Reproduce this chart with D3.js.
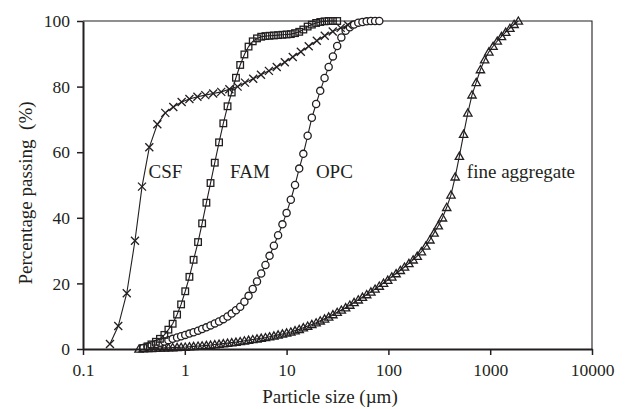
<!DOCTYPE html>
<html>
<head>
<meta charset="utf-8">
<script src="https://cdn.jsdelivr.net/npm/d3@7"></script>
<style>
  body { margin: 0; background: #fff; }
  text { font-family: "Liberation Serif", "Times New Roman", serif; fill: #231f20; }
</style>
</head>
<body>
<div id="chart"></div>
<script>
// particle size classes (um), shared by FAM, OPC and fine aggregate
var sizeClasses = [0.355, 0.39, 0.43, 0.47, 0.52, 0.57, 0.63, 0.69, 0.76, 0.84,
	0.92, 1.01, 1.11, 1.22, 1.35, 1.48, 1.63, 1.79, 1.97, 2.17,
	2.39, 2.63, 2.89, 3.18, 3.5, 3.85, 4.23, 4.65, 5.12, 5.63,
	6.2, 6.8, 7.5, 8.25, 9.1, 10, 11, 12.1, 13.3, 14.6,
	16.1, 17.7, 19.5, 21.4, 23.6, 25.9, 28.5, 31.4, 34.5, 38,
	41.8, 46, 50.6, 55.6, 61.2, 67.3, 74, 81.4, 89.6, 98.5,
	108, 119, 131, 144, 159, 175, 192, 211, 233, 256,
	281, 309, 340, 374, 412, 453, 498, 548, 603, 663,
	729, 802, 882, 970, 1067, 1174, 1291, 1420, 1562, 1718, 1890];

// CSF was measured on its own (coarser) size classes
var csfSizes = [0.184, 0.222, 0.269, 0.324, 0.38, 0.448, 0.537, 0.643, 0.771, 0.931,
	1.11, 1.33, 1.59, 1.9, 2.28, 2.74, 3.3, 3.9, 4.7, 5.6,
	6.7, 8.0, 9.6, 11.5, 13.8, 16.5, 19.8, 23.7, 28.4, 34, 40];
var csfPassing = [1.5, 7, 17, 33, 49.5, 61.5, 68.5, 72, 73.8, 75.3,
	76.2, 76.9, 77.4, 77.9, 78.4, 79.2, 80.0, 81.2, 82.4, 83.6,
	84.8, 86.0, 87.4, 89.0, 90.6, 92.3, 94.0, 95.5, 96.8, 97.9, 98.8];

// percentage passing, index-aligned with sizeClasses (null = no reading)
var famPassing = [null, 0.3, 0.8, 1.4, 2.2, 3.1, 4.3, 5.9, 7.7, 10.5,
	13.6, 17.6, 22.0, 27.2, 32.6, 38.3, 44.6, 50.6, 56.8, 63.0,
	68.8, 74.0, 78.2, 82.7, 86.6, 89.8, 92.2, 93.8, 94.7, 95.2,
	95.4, 95.5, 95.6, 95.7, 95.8, 95.9, 96.0, 96.3, 96.7, 97.4,
	98.3, 98.9, 99.4, 99.7, 99.9, 100, 100, 100];

var opcPassing = [null, 0.3, 0.7, 1.1, 1.5, 1.9, 2.3, 2.7, 3.1, 3.5,
	3.9, 4.3, 4.7, 5.1, 5.6, 6.1, 6.6, 7.2, 7.8, 8.4,
	9.1, 9.9, 10.8, 11.8, 12.9, 14.4, 16.2, 18.3, 20.6, 23.0,
	25.6, 28.4, 31.5, 34.7, 38.0, 41.5, 45.5, 50.0, 55.0, 59.5,
	65.0, 70.5, 74.7, 78.7, 82.6, 86.0, 89.2, 92.4, 95.0, 97.0,
	98.1, 98.9, 99.5, 99.7, 99.9, 100, 100, 100];

var finePassing = [0, 0.1, 0.15, 0.2, 0.25, 0.3, 0.35, 0.4, 0.45, 0.5,
	0.55, 0.6, 0.7, 0.8, 0.9, 1.0, 1.1, 1.2, 1.35, 1.5,
	1.65, 1.8, 1.95, 2.1, 2.3, 2.5, 2.7, 2.9, 3.1, 3.3,
	3.5, 3.75, 4.0, 4.3, 4.6, 4.9, 5.2, 5.6, 6.0, 6.5,
	7.0, 7.5, 8.0, 8.6, 9.2, 9.8, 10.5, 11.2, 11.9, 12.6,
	13.4, 14.2, 15.0, 15.8, 16.6, 17.4, 18.3, 19.2, 20.1, 21.0,
	22.0, 23.0, 24.0, 25.0, 26.1, 27.2, 28.3, 29.7, 31.4, 33.3,
	35.4, 37.6, 40.0, 43.2, 47.0, 52.5, 58.8, 65.5, 72.0, 77.5,
	81.3, 85.2, 88.2, 90.6, 92.3, 93.9, 95.3, 96.6, 97.8, 99.0, 100];

var xTicks = [0.1, 1, 10, 100, 1000, 10000];
var yTicks = [0, 20, 40, 60, 80, 100];

// curve labels, anchored at (size, % passing) of their left baseline point
var curveLabels = [
	{ text: "CSF", x: 0.44, y: 52 },
	{ text: "FAM", x: 2.78, y: 52 },
	{ text: "OPC", x: 19.4, y: 52 },
	{ text: "fine aggregate", x: 590, y: 52 }
];

var W = 628, H = 409;
var mLeft = 83, mRight = 592, mTop = 21, mBottom = 349;
var ink = "#231f20";

var svg = d3.select("#chart").append("svg")
	.attr("width", W)
	.attr("height", H);

var x = d3.scaleLog().domain([0.1, 10000]).range([mLeft, mRight]);
var y = d3.scaleLinear().domain([0, 100]).range([mBottom, mTop]);

function pairs(sizes, vals) {
	var out = [];
	for (var i = 0; i < vals.length; i++) {
		if (vals[i] != null) out.push({ s: sizes[i], p: vals[i] });
	}
	return out;
}

var csf  = pairs(csfSizes, csfPassing);
var fam  = pairs(sizeClasses, famPassing);
var opc  = pairs(sizeClasses, opcPassing);
var fine = pairs(sizeClasses, finePassing);

// frame (top / right thin)
svg.append("path")
	.attr("d", "M" + mLeft + "," + mTop + "H" + mRight + "V" + mBottom)
	.attr("fill", "none")
	.attr("stroke", ink)
	.attr("stroke-width", 1.1);

var line = d3.line()
	.x(function(d) { return x(d.s); })
	.y(function(d) { return y(d.p); });

var plot = svg.append("g");

[fine, opc, fam, csf].forEach(function(series) {
	plot.append("path")
		.datum(series)
		.attr("d", line)
		.attr("fill", "none")
		.attr("stroke", ink)
		.attr("stroke-width", 1.1);
});

var mk = 1.3;

// fine aggregate - open triangles
plot.append("g").selectAll("path")
	.data(fine)
	.enter().append("path")
	.attr("transform", function(d) { return "translate(" + x(d.s) + "," + (y(d.p) + 0.8) + ")"; })
	.attr("d", d3.symbol().type(d3.symbolTriangle).size(30))
	.attr("fill", "none")
	.attr("stroke", ink)
	.attr("stroke-width", mk);

// OPC - white circles
plot.append("g").selectAll("circle")
	.data(opc)
	.enter().append("circle")
	.attr("cx", function(d) { return x(d.s); })
	.attr("cy", function(d) { return y(d.p); })
	.attr("r", 3.6)
	.attr("fill", "#fff")
	.attr("stroke", ink)
	.attr("stroke-width", mk);

// FAM - open squares
plot.append("g").selectAll("rect")
	.data(fam)
	.enter().append("rect")
	.attr("x", function(d) { return x(d.s) - 3.3; })
	.attr("y", function(d) { return y(d.p) - 3.3; })
	.attr("width", 6.6)
	.attr("height", 6.6)
	.attr("fill", "none")
	.attr("stroke", ink)
	.attr("stroke-width", mk);

// CSF - crosses
plot.append("g").selectAll("path")
	.data(csf)
	.enter().append("path")
	.attr("transform", function(d) { return "translate(" + x(d.s) + "," + y(d.p) + ")"; })
	.attr("d", "M-4,-4L4,4M-4,4L4,-4")
	.attr("stroke", ink)
	.attr("stroke-width", mk);

// axes
var xAxis = svg.append("g")
	.attr("transform", "translate(0," + mBottom + ")")
	.call(d3.axisBottom(x).tickValues(xTicks).tickFormat(function(d) { return String(d); })
		.tickSize(6).tickSizeOuter(0).tickPadding(9));

var yAxis = svg.append("g")
	.attr("transform", "translate(" + mLeft + ",0)")
	.call(d3.axisLeft(y).tickValues(yTicks).tickSize(6).tickSizeOuter(0).tickPadding(7));

[xAxis, yAxis].forEach(function(ax) {
	ax.select(".domain").attr("stroke", ink).attr("stroke-width", 2);
	ax.selectAll(".tick line").attr("stroke", ink).attr("stroke-width", 1.5);
	ax.selectAll(".tick text")
		.attr("fill", ink)
		.style("font-family", '"Liberation Serif", serif')
		.style("font-size", "17.5px");
});

svg.append("text")
	.attr("x", 330)
	.attr("y", 403)
	.attr("text-anchor", "middle")
	.style("font-size", "19px")
	.text("Particle size (\u00b5m)");

svg.append("text")
	.attr("transform", "translate(32," + 193 + ") rotate(-90)")
	.attr("text-anchor", "middle")
	.style("font-size", "19px")
	.style("white-space", "pre")
	.text("Percentage passing  (%)");

svg.append("g").selectAll("text")
	.data(curveLabels)
	.enter().append("text")
	.attr("x", function(d) { return x(d.x); })
	.attr("y", function(d) { return y(d.y); })
	.style("font-size", "19px")
	.text(function(d) { return d.text; });
</script>
</body>
</html>
